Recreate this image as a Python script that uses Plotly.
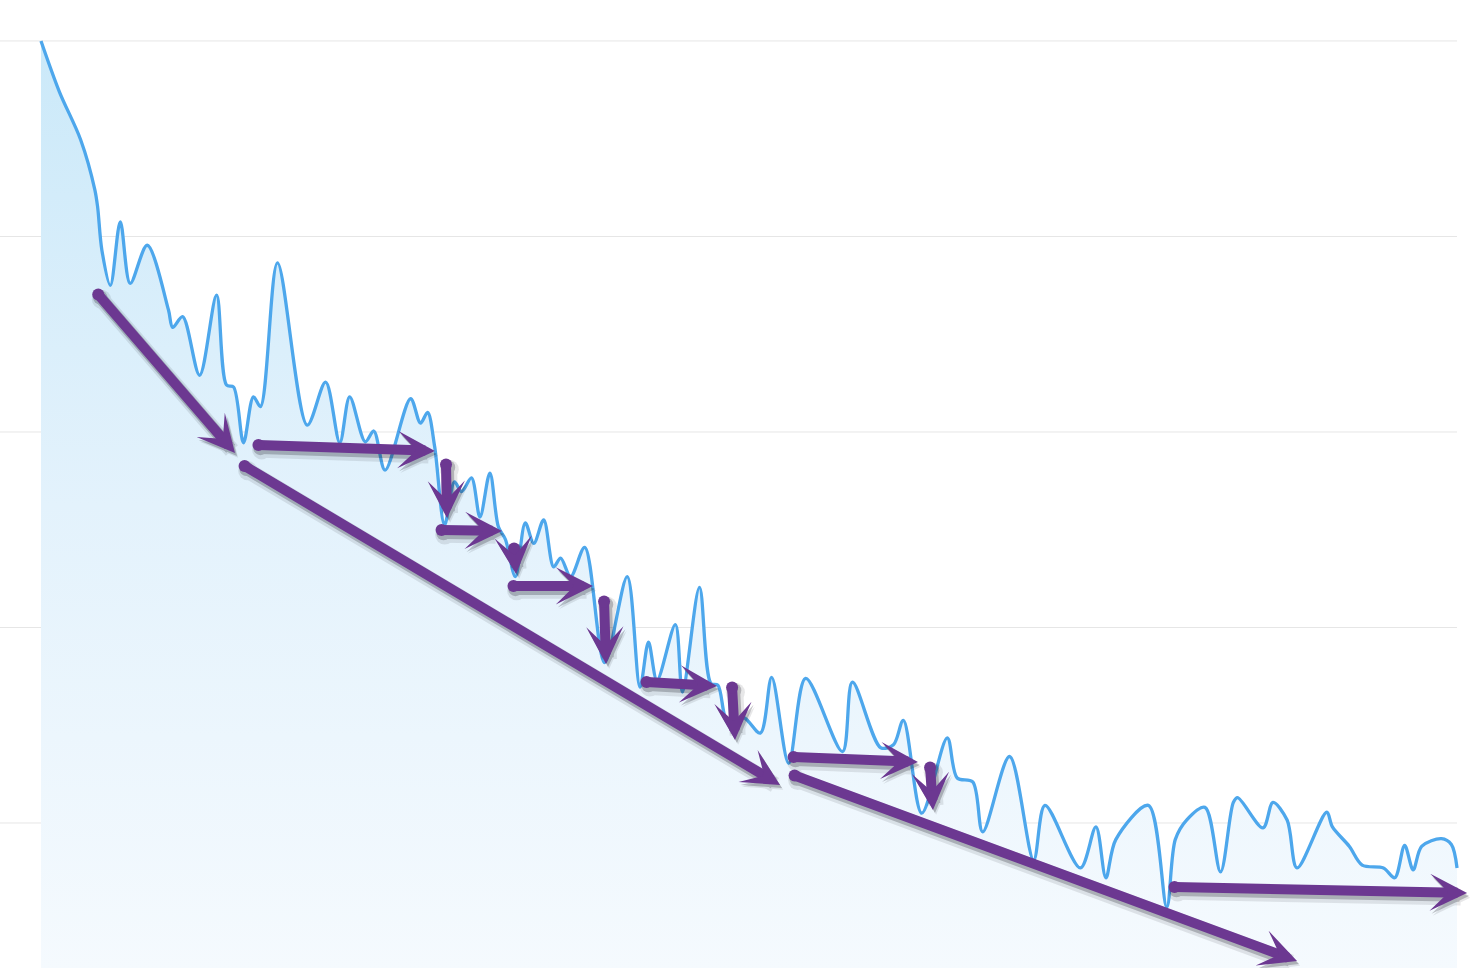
import plotly.graph_objects as go

# ---- data (x = progress 0..100, y = value, gridlines every 20) ----
x_vals = [0.0, 1.3, 2.8, 3.8, 4.0, 4.3, 4.9, 5.6, 6.3, 7.5, 9.0, 9.3, 10.0, 11.2, 12.4, 13.1,
          13.6, 14.3, 15.0, 15.5, 16.7, 18.8, 20.1, 21.1, 21.8, 22.9, 23.5, 24.3, 26.1, 26.8,
          27.3, 27.8, 28.5, 29.2, 29.7, 30.4, 31.0, 31.7, 32.3, 32.8, 33.5, 34.2, 34.8, 35.5,
          36.2, 36.7, 37.4, 38.4, 39.8, 41.4, 42.3, 42.9, 43.5, 44.8, 45.3, 46.5, 47.3, 47.8,
          48.5, 49.6, 50.8, 51.6, 52.8, 54.0, 56.6, 57.3, 59.3, 60.2, 60.9, 62.2, 64.0, 64.7,
          65.8, 66.5, 68.4, 70.1, 70.9, 73.4, 74.5, 75.2, 75.9, 78.2, 79.5, 80.1, 80.9, 82.2,
          83.3, 84.2, 84.5, 86.3, 87.0, 88.0, 88.7, 90.8, 91.2, 92.4, 93.3, 94.8, 95.6, 96.3,
          96.9, 97.5, 98.9, 99.6, 100.0]
y_vals = [100.0, 94.8, 89.9, 84.8, 83.0, 78.6, 75.0, 81.5, 75.2, 79.1, 72.5, 70.7, 71.8, 65.8,
          74.0, 64.8, 64.6, 58.9, 63.6, 62.6, 77.3, 60.7, 65.1, 58.9, 63.6, 59.0, 60.1, 56.1,
          63.4, 60.9, 62.0, 58.5, 50.5, 54.9, 53.9, 55.3, 51.3, 55.8, 50.3, 49.0, 45.2, 50.7,
          48.6, 51.0, 46.2, 47.1, 45.2, 48.2, 36.4, 45.2, 33.9, 38.5, 34.6, 40.3, 33.4, 44.1,
          34.3, 34.1, 30.3, 30.8, 29.2, 34.9, 26.1, 34.8, 27.3, 34.4, 27.7, 28.0, 30.5, 21.0,
          28.7, 24.6, 24.2, 19.1, 26.8, 16.2, 21.8, 15.4, 19.6, 14.4, 18.3, 21.8, 11.4, 18.3,
          20.3, 21.6, 15.0, 22.1, 22.6, 19.5, 22.1, 20.3, 15.4, 21.1, 19.6, 17.6, 15.7, 15.4,
          14.4, 17.7, 15.2, 17.6, 18.4, 17.8, 15.4]

grid_values = [100, 80, 60, 40, 20]

# trend arrows: (tail x, tail y, tip x, tip y)
arrow_tail_x = [3.95, 15.25, 14.27, 28.60, 28.18, 33.40, 33.26, 39.76, 42.66, 48.80, 53.04, 62.78, 53.11, 79.94]
arrow_tail_y = [74.22, 58.67, 56.62, 56.83, 49.97, 48.24, 44.25, 42.81, 34.42, 34.02, 26.75, 25.83, 24.91, 13.45]
arrow_tip_x = [13.70, 27.82, 52.19, 28.67, 32.56, 33.55, 38.98, 39.90, 47.74, 49.01, 61.93, 62.99, 88.70, 100.71]
arrow_tip_y = [57.85, 58.06, 23.89, 51.20, 49.87, 45.47, 44.25, 36.27, 34.02, 28.49, 26.24, 21.33, 5.88, 12.84]

LINE_BLUE = "#4da7ec"
PURPLE = "#6c3891"

X_RANGE = [-2.895, 101.48]
Y_RANGE = [5.166, 104.19]

fig = go.Figure()

fig.add_trace(go.Scatter(
    x=x_vals, y=y_vals, mode="lines",
    line=dict(color=LINE_BLUE, width=3.3, shape="spline", smoothing=0.9),
    fill="tozeroy",
    fillgradient=dict(type="vertical", start=5, stop=100,
                      colorscale=[[0, "#f5fafe"], [0.5, "#e3f2fc"], [1, "#cbe9f9"]]),
    hoverinfo="skip", showlegend=False,
))

shapes = []
for g in grid_values:
    shapes.append(dict(type="line", xref="x", yref="y", x0=X_RANGE[0], x1=100, y0=g, y1=g,
                       line=dict(color="#e6e6e6", width=1), layer="below"))

# shadow offsets in data units (~2px right, ~3px down)
dx = 2 / 14.16
dy = -3 / 9.775

HEAD = 0.62
annotations = []
for tx, ty, hx, hy in zip(arrow_tail_x, arrow_tail_y, arrow_tip_x, arrow_tip_y):
    for (w, a, ox, oy) in [(16, 0.10, dx * 1.6, dy * 1.6), (12, 0.25, dx, dy)]:
        annotations.append(dict(
            x=hx + ox, y=hy + oy, ax=tx + ox, ay=ty + oy, xref="x", yref="y", axref="x", ayref="y",
            text="", showarrow=True, arrowhead=3, arrowsize=HEAD * 10 / w, arrowwidth=w,
            arrowcolor=f"rgba(30,30,40,{a})", arrowside="end+start", startarrowhead=6,
            startarrowsize=0.3,
        ))
for tx, ty, hx, hy in zip(arrow_tail_x, arrow_tail_y, arrow_tip_x, arrow_tip_y):
    annotations.append(dict(
        x=hx, y=hy, ax=tx, ay=ty, xref="x", yref="y", axref="x", ayref="y",
        text="", showarrow=True, arrowhead=3, arrowsize=HEAD, arrowwidth=10,
        arrowcolor=PURPLE, arrowside="end+start", startarrowhead=6, startarrowsize=0.3,
    ))

fig.update_layout(
    width=1478, height=968,
    margin=dict(l=0, r=0, t=0, b=0),
    paper_bgcolor="white", plot_bgcolor="white",
    xaxis=dict(range=X_RANGE, visible=False, showgrid=False, zeroline=False, fixedrange=True),
    yaxis=dict(range=Y_RANGE, visible=False, showgrid=False, zeroline=False, fixedrange=True),
    shapes=shapes,
    annotations=annotations,
    showlegend=False,
    hovermode=False,
)

fig.write_html("out.html", config={"displayModeBar": False},
               post_script="document.body.style.margin='0';document.body.style.overflow='hidden';")
